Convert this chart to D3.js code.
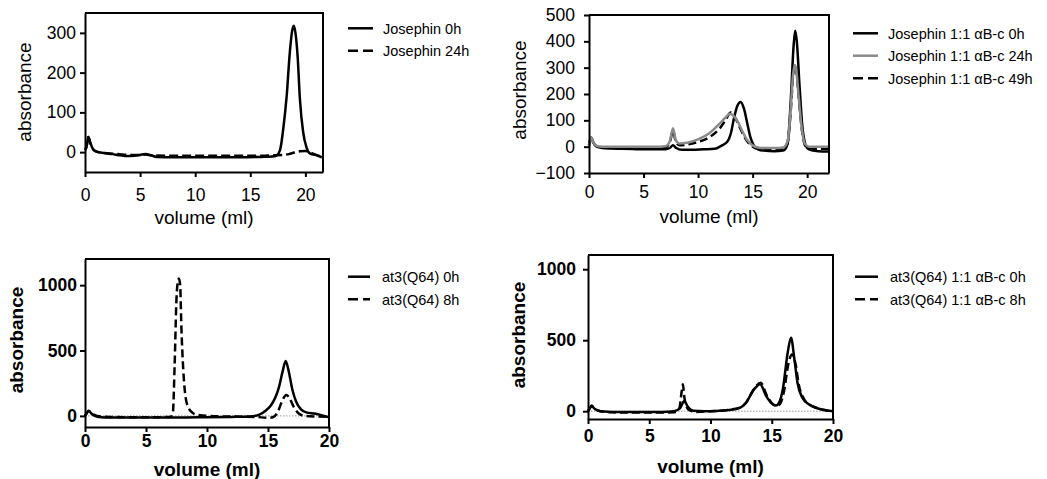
<!DOCTYPE html>
<html><head><meta charset="utf-8">
<script src="https://cdn.jsdelivr.net/npm/d3@7"></script>
<style>body{margin:0;background:#fff}svg{display:block}text{font-family:"Liberation Sans",Arial,sans-serif;fill:#000}</style>
</head><body><svg id="c" width="1047" height="479"></svg>
<script>
// ---------- DATA ----------
// Panel 1: Josephin alone
const p1Names = ["Josephin 0h", "Josephin 24h"];
const p1x_0h = [0,0.15,0.3,0.5,0.8,1.2,1.7,2.5,3.2,3.8,4.5,5.0,5.5,6.0,6.5,8,10,12,14,16,17.0,17.4,17.7,18.0,18.3,18.6,18.8,18.95,19.1,19.3,19.5,19.8,20.1,20.4,20.9,21.5];
const p1y_0h = [5,15,38,22,5,0,-2,-5,-8,-10,-9,-7,-5,-8,-12,-13,-13,-13,-13,-12,-11,-8,5,60,140,255,305,318,300,240,135,50,12,-3,-7,-13];
const p1x_24h = [0,0.15,0.3,0.5,0.8,1.2,2,3,4,5,5.5,6,8,10,12,14,16,17,18,18.5,19,19.5,20,20.4,20.8,21.5];
const p1y_24h = [5,15,38,22,5,0,-3,-5,-7,-7,-6,-8,-9,-9,-9,-9,-9,-8,-7,-5,-1,2,3,0,-5,-12];
const p1yTicks = [0,100,200,300];
const p1xTicks = [0,5,10,15,20];

// Panel 2: Josephin 1:1 alphaB-c
const p2Names = ["Josephin 1:1 \u03b1B-c 0h", "Josephin 1:1 \u03b1B-c 24h", "Josephin 1:1 \u03b1B-c 49h"];
const p2x_0h = [0,0.2,0.4,0.7,1.2,2,3,4,5,6,7,7.4,7.7,8.0,8.5,9.5,10.5,11.5,12.2,12.7,13.0,13.3,13.6,13.9,14.2,14.5,14.8,15.1,15.5,16,17,17.8,18.2,18.5,18.75,18.9,19.05,19.3,19.6,20,20.5,21,22];
const p2y_0h = [5,35,15,0,-5,-7,-8,-9,-10,-10,-10,-5,5,-5,-12,-12,-10,-8,5,20,50,110,155,170,145,90,35,5,-10,-15,-17,-15,10,180,380,440,400,230,60,-5,-15,-17,-18];
const p2x_24h = [0,0.2,0.4,0.7,1.2,2,4,6,7,7.4,7.7,7.95,8.3,9,10,11,12,12.5,12.9,13.3,13.7,14.1,14.5,15,15.5,16,17,17.8,18.2,18.5,18.7,18.85,19.0,19.2,19.5,19.8,20.2,21,22];
const p2y_24h = [5,35,15,3,0,0,0,0,2,20,70,25,12,15,28,50,88,110,125,115,90,55,25,5,-3,-5,-5,-3,20,150,270,310,290,200,70,10,0,0,0];
const p2x_49h = [0,0.2,0.4,0.7,1.2,2,4,6,7,7.4,7.7,7.95,8.3,9,10,11,12,12.5,13.0,13.4,13.8,14.2,14.6,15,15.5,16,17,17.8,18.2,18.5,18.7,18.85,19.0,19.2,19.5,19.8,20.2,21,22];
const p2y_49h = [5,35,15,2,-2,-3,-4,-4,-2,15,60,20,5,8,18,35,70,100,130,110,75,40,15,0,-8,-10,-10,-8,15,140,265,310,290,200,70,5,-8,-8,-8];
const p2yTicks = [-100,0,100,200,300,400,500];
const p2xTicks = [0,5,10,15,20];

// Panel 3: at3(Q64)
const p3Names = ["at3(Q64) 0h", "at3(Q64) 8h"];
const p3x_0h = [0,0.15,0.3,0.5,0.8,1.3,2,4,6,8,10,12,13.5,14.3,14.8,15.2,15.6,15.9,16.2,16.45,16.7,17.0,17.3,17.7,18.2,18.8,19.3,20];
const p3y_0h = [0,20,40,20,0,-10,-12,-12,-12,-12,-10,-8,-5,10,40,75,140,220,340,420,340,200,110,50,25,18,8,-10];
const p3x_8h = [0,0.3,0.6,1,2,4,6,7.0,7.2,7.35,7.5,7.6,7.7,7.8,7.9,8.05,8.25,8.5,8.8,9.2,10,12,14,15,15.4,15.8,16.1,16.5,16.8,17.1,17.5,18,19,20];
const p3y_8h = [0,38,15,0,-8,-10,-10,-8,20,400,900,1020,1050,1000,680,360,140,60,25,8,0,-5,-8,-15,-10,30,100,160,130,70,20,0,-5,-8];
const p3yTicks = [0,500,1000];
const p3xTicks = [0,5,10,15,20];

// Panel 4: at3(Q64) 1:1 alphaB-c
const p4Names = ["at3(Q64) 1:1 \u03b1B-c 0h", "at3(Q64) 1:1 \u03b1B-c 8h"];
const p4x_0h = [0,0.15,0.3,0.5,0.8,1.3,2,4,6,7.0,7.5,7.85,8.2,8.6,9.5,10.5,11.5,12.4,12.9,13.45,14.05,14.55,15.1,15.35,15.6,15.9,16.3,16.57,16.85,17.1,17.5,18.05,18.6,19.2,20];
const p4y_0h = [0,20,40,20,5,-3,-5,-5,-5,0,20,70,25,3,0,2,8,24,59,141,190,106,47,40,60,153,412,518,365,200,95,47,24,10,0];
const p4x_8h = [0,0.3,0.6,1,2,4,6,7.0,7.45,7.65,7.75,7.85,8.0,8.3,8.8,10,11.5,12.4,12.9,13.5,14.1,14.6,15.15,15.4,15.7,16.0,16.35,16.65,16.95,17.2,17.6,18.1,18.7,19.3,20];
const p4y_8h = [0,35,15,0,-8,-10,-10,-8,20,140,190,110,40,5,-5,0,10,25,60,150,200,110,45,38,55,140,330,400,330,190,90,45,22,8,-3];
const p4yTicks = [0,500,1000];
const p4xTicks = [0,5,10,15,20];

const xTitle = "volume (ml)";
const yTitle = "absorbance";

// ---------- LAYOUT / STYLE ----------
const svg = d3.select("#c");
const zip = (xs, ys) => xs.map((x, i) => [x, ys[i]]);

const panels = [
  {L:85,R:323,T:13,B:172,xd:[0,21.6],yd:[-50,350],yt:p1yTicks,xt:p1xTicks,bold:false,ypad:4,xpad:12,xtY:224,ytX:31,ytY:92,
   series:[{d:zip(p1x_24h,p1y_24h),c:"#000",dash:"9,4"},{d:zip(p1x_0h,p1y_0h),c:"#000",dash:null}],
   leg:{x1:348,x2:373,tx:383,ys:[28.3,50.7],names:p1Names,styles:[{c:"#000",dash:null},{c:"#000",dash:"10,5"}]},zero:false},
  {L:589,R:829,T:15,B:173,xd:[0,22],yd:[-100,500],yt:p2yTicks,xt:p2xTicks,bold:false,ypad:9,xpad:8,xtY:223,ytX:526,ytY:90,
   series:[{d:zip(p2x_0h,p2y_0h),c:"#000",dash:null},{d:zip(p2x_49h,p2y_49h),c:"#000",dash:"8,4"},{d:zip(p2x_24h,p2y_24h),c:"#8a8a8a",dash:null}],
   leg:{x1:853,x2:878,tx:888,ys:[33.3,55.7,78.3],names:p2Names,styles:[{c:"#000",dash:null},{c:"#8a8a8a",dash:null},{c:"#000",dash:"10,5"}]},zero:false},
  {L:85,R:329,T:259,B:427,xd:[0,20],yd:[-85,1200],yt:p3yTicks,xt:p3xTicks,bold:true,ypad:3,xpad:3,xtY:476,ytX:23,ytY:340,
   series:[{d:zip(p3x_8h,p3y_8h),c:"#000",dash:"8,4"},{d:zip(p3x_0h,p3y_0h),c:"#000",dash:null}],
   leg:{x1:348,x2:370,tx:382,ys:[276.7,299.3],names:p3Names,styles:[{c:"#000",dash:null},{c:"#000",dash:"10,5"}]},zero:true},
  {L:588,R:833,T:255,B:419,xd:[0,20],yd:[-55,1100],yt:p4yTicks,xt:p4xTicks,bold:true,ypad:7,xpad:6,xtY:473,ytX:525,ytY:335,
   series:[{d:zip(p4x_8h,p4y_8h),c:"#000",dash:"8,4"},{d:zip(p4x_0h,p4y_0h),c:"#000",dash:null}],
   leg:{x1:855,x2:878,tx:890,ys:[276.7,299.3],names:p4Names,styles:[{c:"#000",dash:null},{c:"#000",dash:"10,5"}]},zero:true}
];

panels.forEach(p => {
  const x = d3.scaleLinear().domain(p.xd).range([p.L, p.R]);
  const y = d3.scaleLinear().domain(p.yd).range([p.B, p.T]);
  const g = svg.append("g");
  const fw = p.bold ? "bold" : "normal";

  if (p.zero) {
    g.append("line").attr("x1", x(p.xd[0])).attr("x2", x(p.xd[1])).attr("y1", y(0)).attr("y2", y(0))
      .attr("stroke", "#999").attr("stroke-width", 1).attr("stroke-dasharray", "1.5,1.5");
  }

  const line = d3.line().x(d => x(d[0])).y(d => y(d[1])).curve(d3.curveMonotoneX);
  p.series.forEach(s => {
    g.append("path").attr("d", line(s.d)).attr("fill", "none").attr("stroke", s.c)
      .attr("stroke-width", 2.5).attr("stroke-linejoin", "round")
      .attr("stroke-dasharray", s.dash);
  });

  // frame top/right
  g.append("path").attr("d", `M${p.L},${p.T}H${p.R}V${p.B}`).attr("fill", "none").attr("stroke", "#000").attr("stroke-width", 2);

  const xa = g.append("g").attr("transform", `translate(0,${p.B})`)
    .call(d3.axisBottom(x).tickValues(p.xt).tickSize(5).tickSizeOuter(0).tickPadding(p.xpad).tickFormat(d3.format("d")));
  const ya = g.append("g").attr("transform", `translate(${p.L},0)`)
    .call(d3.axisLeft(y).tickValues(p.yt).tickSize(5).tickSizeOuter(0).tickPadding(p.ypad).tickFormat(d3.format("d")));
  [xa, ya].forEach(a => {
    a.select(".domain").attr("stroke-width", 2);
    a.selectAll(".tick line").attr("stroke-width", 2);
    a.selectAll("text").attr("font-size", 17.5).attr("font-weight", fw)
      .attr("font-family", "Liberation Sans, Arial, sans-serif").attr("fill", "#000");
  });

  g.append("text").attr("x", (p.L + p.R) / 2).attr("y", p.xtY).attr("text-anchor", "middle")
    .attr("font-size", 19).attr("font-weight", fw).text(xTitle);
  g.append("text").attr("transform", `translate(${p.ytX},${p.ytY}) rotate(-90)`).attr("text-anchor", "middle")
    .attr("font-size", 19).attr("font-weight", fw).text(yTitle);

  // legend
  p.leg.names.forEach((n, i) => {
    const st = p.leg.styles[i];
    const yy = p.leg.ys[i];
    g.append("line").attr("x1", p.leg.x1).attr("x2", p.leg.x2).attr("y1", yy).attr("y2", yy)
      .attr("stroke", st.c).attr("stroke-width", 2.5).attr("stroke-dasharray", st.dash);
    g.append("text").attr("x", p.leg.tx).attr("y", yy).attr("dy", "0.36em")
      .attr("font-size", 14.5).text(n);
  });
});
</script></body></html>
